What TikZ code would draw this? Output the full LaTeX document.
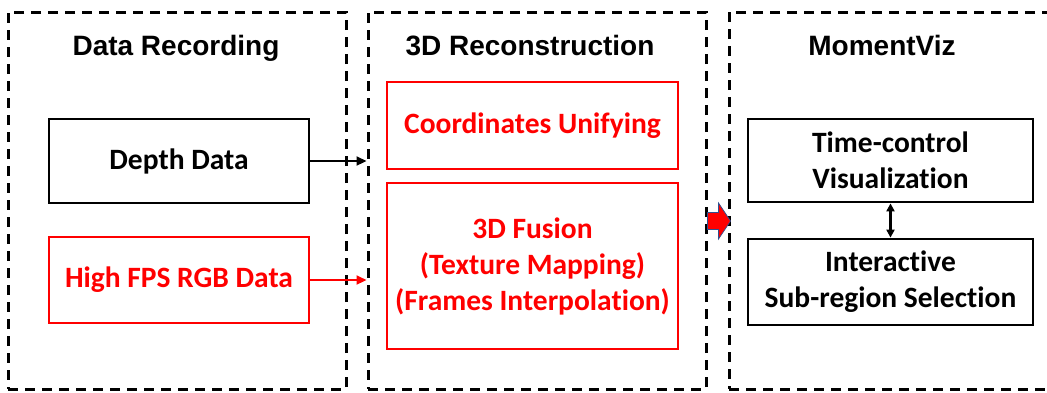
\documentclass[tikz,border=0pt]{standalone}
\usepackage{fontspec}
\setmainfont{Carlito}[Ligatures=NoCommon]
\newfontfamily\titlefont{Liberation Sans}
\usepackage{tikz}
\usetikzlibrary{arrows.meta,positioning,calc}
\definecolor{boxred}{HTML}{FF0000}
\definecolor{arrowedge}{HTML}{2F4F8F}

\begin{document}
\begin{tikzpicture}[
  x=1pt, y=-1pt,
  panel/.style={draw, line width=3pt, dash pattern=on 10pt off 7pt, inner sep=0pt},
  title/.style={font=\titlefont\bfseries\fontsize{28}{30}\selectfont, anchor=base},
  blk/.style={draw, line width=2.8pt, minimum width=260pt, minimum height=84pt, align=center, font=\bfseries\fontsize{29.5}{36}\selectfont, inner sep=0pt},
  redblk/.style={blk, draw=boxred, text=boxred},
  arr/.style={-{Triangle[length=10pt,width=9pt]}, line width=2.2pt},
  dbl/.style={{Triangle[length=8pt,width=8pt]}-{Triangle[length=8pt,width=8pt]}, line width=2.2pt},
  fatarr/.style={fill=boxred, draw=arrowedge, line width=0.7pt, line join=miter}
]
  \useasboundingbox (0,0) rectangle (1047,392);

  % three dashed stages
  \node[panel, minimum width=338pt, minimum height=377pt] (left) at (177,200.5) {};
  \node[panel, minimum width=338pt, minimum height=377pt] (mid) at (537,200.5) {};
  \node[panel, minimum width=330pt, minimum height=377pt] (right) at (894,200.5) {};

  \node[title] (t1) at (176,55) {Data Recording};
  \node[title] (t2) at (530,55) {3D Reconstruction};
  \node[title] (t3) at (882,55) {MomentViz};

  % data recording
  \node[blk] (depth) at (179,161) {Depth Data};
  \node[redblk, minimum height=86pt] (rgb) at (179,280) {High FPS RGB Data};

  % reconstruction
  \node[redblk, minimum width=291pt, minimum height=87pt] (unify) at (532.5,125.5) {Coordinates Unifying};
  \node[redblk, minimum width=291pt, minimum height=166pt] (fusion) at (532.5,266) {3D Fusion\\(Texture Mapping)\\(Frames Interpolation)};

  % momentviz
  \node[blk, minimum width=285pt, minimum height=83pt] (timectl) at (890.5,160.5) {Time-control\\Visualization};
  \node[blk, minimum width=285pt, minimum height=86pt] (inter) at (890.5,282) {Interactive\\Sub-region Selection};

  \draw[arr] (depth.east) -- (depth.east -| mid.west);
  \draw[arr, boxred] (rgb.east) -- (rgb.east -| mid.west);
  \draw[dbl] (timectl.south) -- (inter.north);

  \coordinate (fa) at (mid.east |- 0,221);
  \draw[fatarr] ($(fa)+(0,-8.5)$) -- ++(11,0) -- ++(0,-9.5) -- ($(fa)+(23,0)$)
    -- ($(fa)+(11,18)$) -- ++(0,-9.5) -- ($(fa)+(0,8.5)$) -- cycle;
\end{tikzpicture}
\end{document}
